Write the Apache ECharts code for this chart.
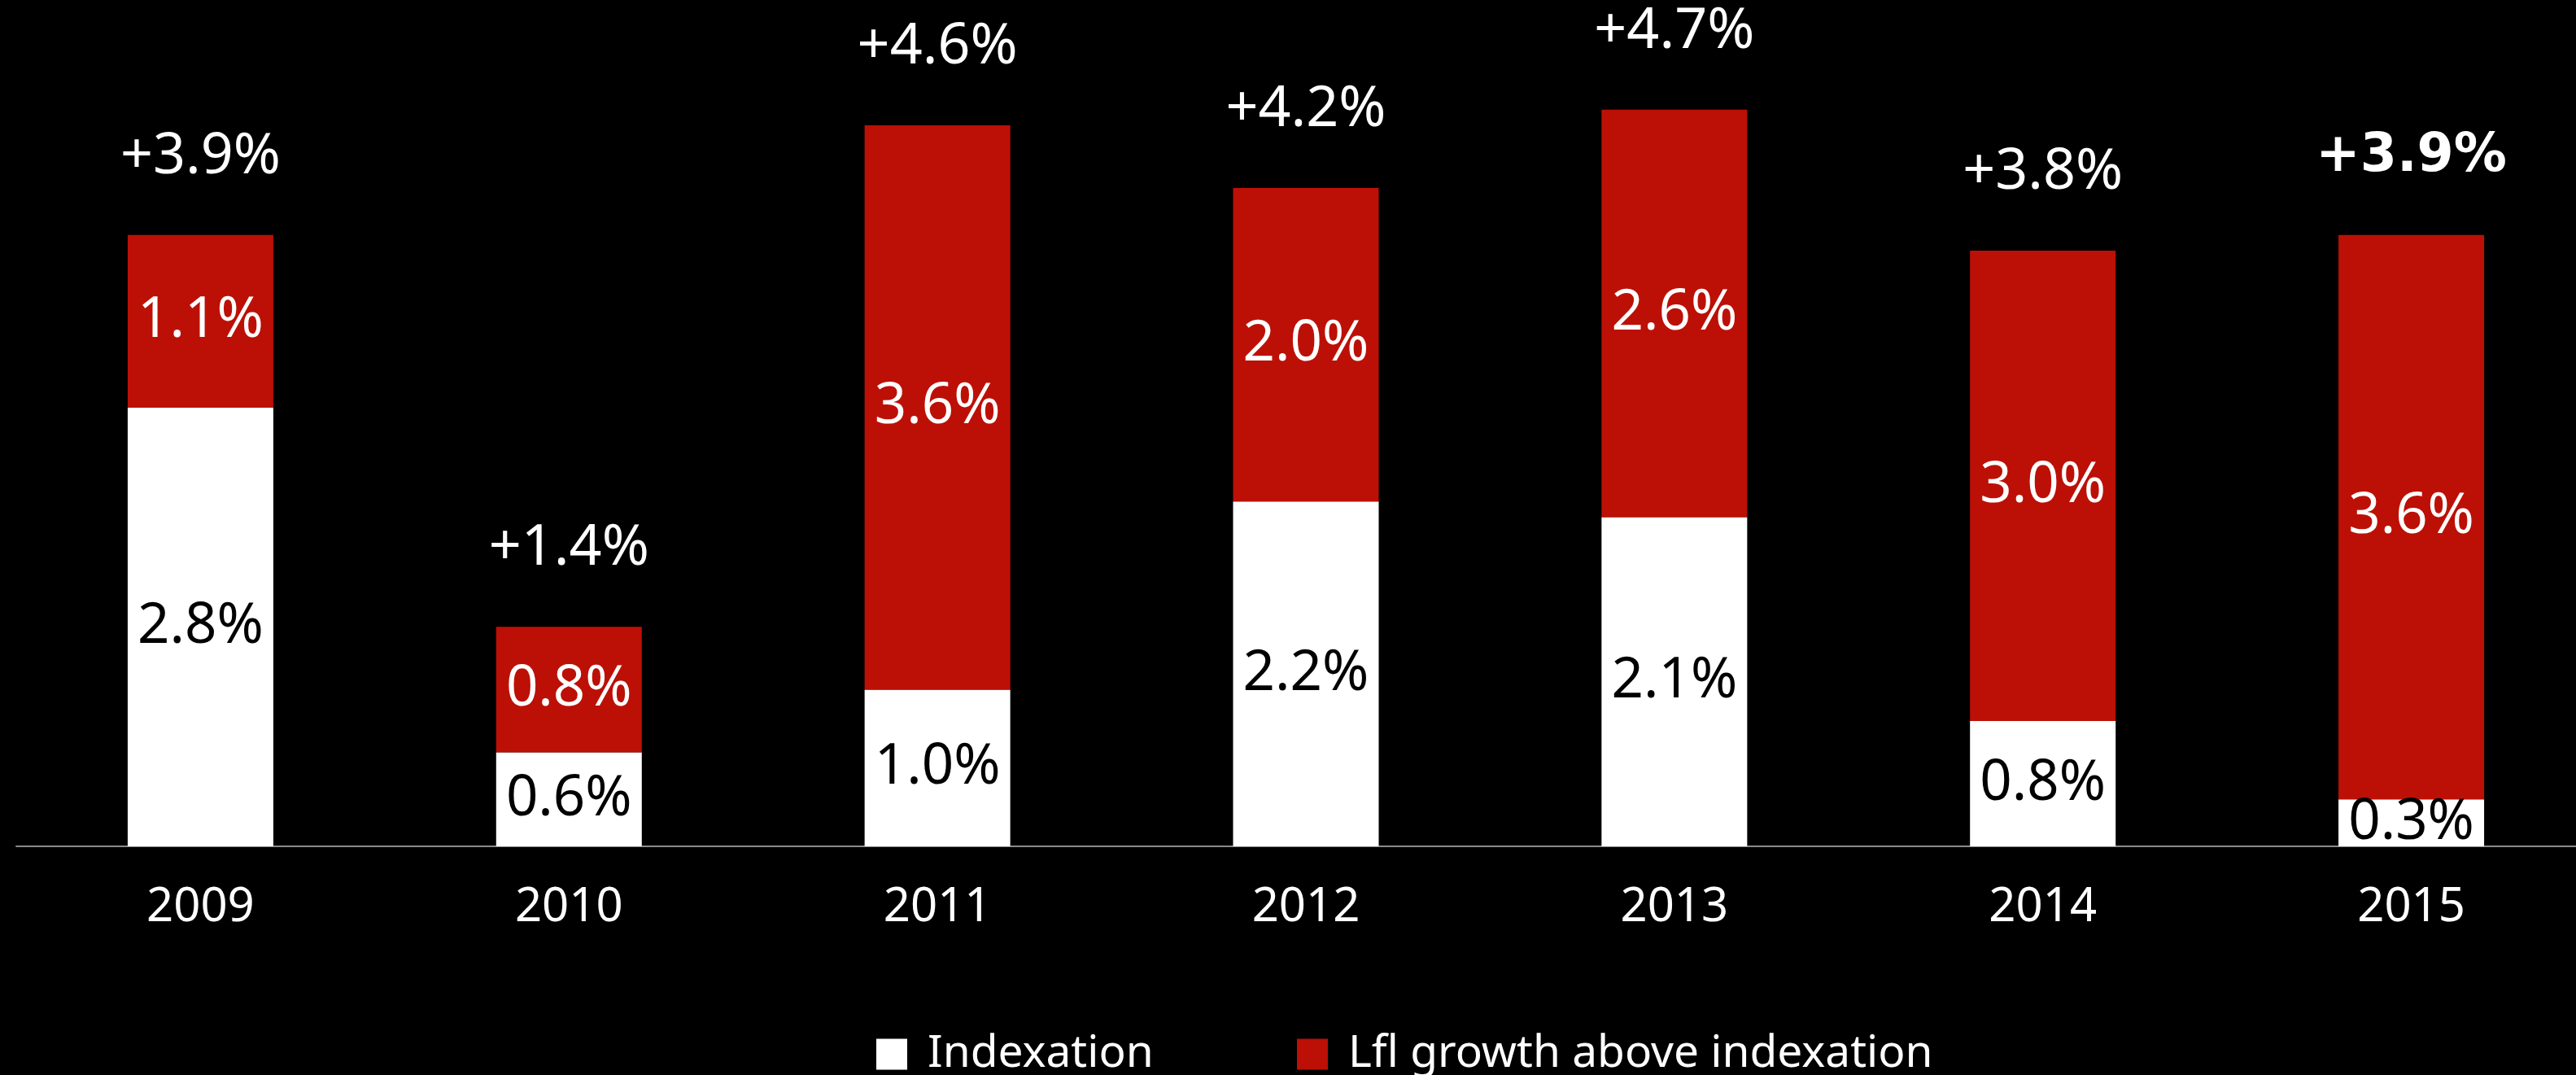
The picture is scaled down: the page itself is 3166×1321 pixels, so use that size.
<!DOCTYPE html>
<html>
<head>
<meta charset="utf-8">
<script src="https://cdn.jsdelivr.net/npm/echarts@6/dist/echarts.min.js"></script>
<style>
  html, body { margin: 0; padding: 0; background: #000; overflow: hidden; }
  #chart { width: 3190px; height: 1321px; }
</style>
</head>
<body>
<div id="chart"></div>
<script>
// Like-for-like growth split into indexation and growth above indexation
const years = ['2009', '2010', '2011', '2012', '2013', '2014', '2015'];
const indexation = [2.8, 0.6, 1.0, 2.2, 2.1, 0.8, 0.3];
const lflAbove = [1.1, 0.8, 3.6, 2.0, 2.6, 3.0, 3.6];
const totals = [3.9, 1.4, 4.6, 4.2, 4.7, 3.8, 3.9];
const highlightYear = '2015';

const RED = '#BC1006';
const FONT = '"Noto Sans", "DejaVu Sans", sans-serif';
const pct = v => v.toFixed(1) + '%';

const chart = echarts.init(document.getElementById('chart'), null, { renderer: 'canvas' });

const legendBase = {
  orient: 'horizontal',
  top: 1268,
  padding: 0,
  itemWidth: 38,
  itemHeight: 38,
  icon: 'rect',
  selectedMode: false,
  textStyle: { color: '#fff', fontSize: 55, lineHeight: 38, fontFamily: FONT, padding: [0, 0, 0, 20] }
};

chart.setOption({
  backgroundColor: '#000',
  animation: false,
  grid: { left: 20, top: 77, right: 0, height: 963 },
  legend: [
    Object.assign({ left: 1077, data: ['Indexation'] }, legendBase),
    Object.assign({ left: 1594, data: ['Lfl growth above indexation'] }, legendBase)
  ],
  xAxis: {
    type: 'category',
    data: years,
    axisLine: { show: true, lineStyle: { color: '#8a8a8a', width: 2 } },
    axisTick: { show: false },
    axisLabel: { color: '#fff', fontSize: 58, fontFamily: FONT, margin: 46, lineHeight: 58 }
  },
  yAxis: {
    type: 'value',
    min: 0,
    max: 5,
    show: false,
    splitLine: { show: false }
  },
  series: [
    {
      name: 'Indexation',
      type: 'bar',
      stack: 'lfl',
      barWidth: 179,
      data: indexation,
      itemStyle: { color: '#fff' },
      label: {
        show: true,
        position: 'inside',
        color: '#000',
        fontSize: 69,
        fontFamily: FONT,
        formatter: p => pct(p.value)
      }
    },
    {
      name: 'Lfl growth above indexation',
      type: 'bar',
      stack: 'lfl',
      barWidth: 179,
      data: lflAbove,
      itemStyle: { color: RED },
      label: {
        show: true,
        position: 'inside',
        color: '#fff',
        fontSize: 69,
        fontFamily: FONT,
        formatter: p => pct(p.value)
      }
    },
    {
      name: 'Total',
      type: 'scatter',
      symbolSize: 0,
      itemStyle: { opacity: 1 },
      data: totals.map((v, i) => years[i] === highlightYear
        ? { value: v, label: { fontWeight: 'bold', fontFamily: '"DejaVu Sans", sans-serif', fontSize: 65 } }
        : v),
      label: {
        show: true,
        position: 'inside',
        offset: [0, -96],
        color: '#ffffff',
        opacity: 1,
        fontSize: 70,
        fontFamily: FONT,
        formatter: p => '+' + pct(p.value)
      },
      silent: true
    }
  ]
});
</script>
</body>
</html>
